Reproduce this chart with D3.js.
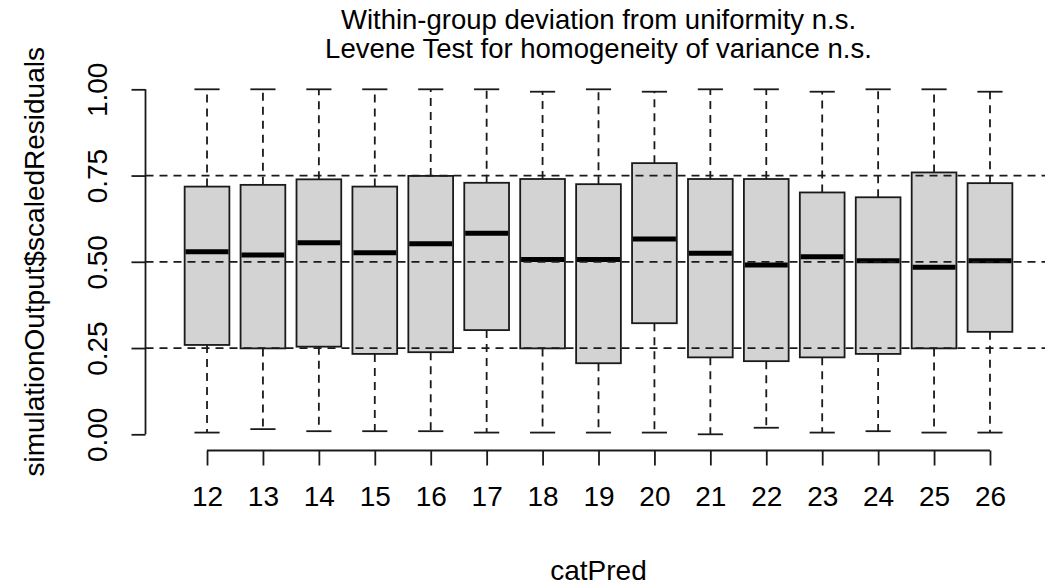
<!DOCTYPE html>
<html>
<head>
<meta charset="utf-8">
<script src="https://cdn.jsdelivr.net/npm/d3@7"></script>
<style>
  html, body { margin: 0; padding: 0; background: #fff; }
  svg { display: block; font-family: "Liberation Sans", Arial, sans-serif; }
</style>
</head>
<body>
<svg id="chart" width="1045" height="588"></svg>
<script>
// Groups of the categorical predictor
const categories = ["12","13","14","15","16","17","18","19","20","21","22","23","24","25","26"];

// Five-number summaries of the scaled residuals per group
const whiskerHigh = [1.000, 1.000, 1.000, 1.000, 1.000, 1.000, 0.993, 1.000, 0.993, 1.000, 1.000, 0.993, 1.000, 1.000, 0.993];
const upperQuartile = [0.718, 0.723, 0.739, 0.718, 0.749, 0.729, 0.740, 0.725, 0.786, 0.740, 0.740, 0.701, 0.687, 0.759, 0.728];
const medians = [0.529, 0.520, 0.555, 0.526, 0.552, 0.583, 0.507, 0.507, 0.566, 0.525, 0.491, 0.515, 0.503, 0.484, 0.503];
const lowerQuartile = [0.259, 0.249, 0.254, 0.233, 0.238, 0.302, 0.249, 0.206, 0.322, 0.223, 0.212, 0.223, 0.233, 0.249, 0.297];
const whiskerLow = [0.005, 0.015, 0.009, 0.009, 0.009, 0.005, 0.005, 0.005, 0.005, 0.000, 0.019, 0.005, 0.009, 0.005, 0.005];

// Reference levels for a uniform distribution
const referenceLevels = [0.25, 0.5, 0.75];
const yTicks = [0, 0.25, 0.5, 0.75, 1];

const titleLines = ["Within-group deviation from uniformity n.s.", "Levene Test for homogeneity of variance n.s."];
const xLabel = "catPred";
const yLabel = "simulationOutput$scaledResiduals";

(function () {
  const svg = d3.select("#chart");
  const ink = "#1a1a1a";
  const lw = 1.8;
  const dash = "8,6";

  // Plot region
  const plotLeft = 145.5, plotRight = 1051.5, plotTop = 75.5, plotBottom = 448.1;
  const n = categories.length;
  const x = d3.scaleLinear().domain([0.5 - 0.04 * n, n + 0.5 + 0.04 * n]).range([plotLeft, plotRight]);
  const y = d3.scaleLinear().domain([-0.04, 1.04]).range([plotBottom, plotTop]);
  const unit = x(2) - x(1);
  const boxW = 0.8 * unit;
  const capW = 0.45 * unit;

  const rows = categories.map((c, i) => ({
    cat: c, pos: i + 1,
    hi: whiskerHigh[i], q3: upperQuartile[i], med: medians[i], q1: lowerQuartile[i], lo: whiskerLow[i]
  }));

  const boxes = svg.append("g");

  // Whiskers (dashed) from box edges out to the extremes
  boxes.selectAll(".whisker-up").data(rows).join("line")
    .attr("x1", d => x(d.pos)).attr("x2", d => x(d.pos))
    .attr("y1", d => y(d.q3)).attr("y2", d => y(d.hi))
    .attr("stroke", ink).attr("stroke-width", lw).attr("stroke-dasharray", dash);
  boxes.selectAll(".whisker-down").data(rows).join("line")
    .attr("x1", d => x(d.pos)).attr("x2", d => x(d.pos))
    .attr("y1", d => y(d.q1)).attr("y2", d => y(d.lo))
    .attr("stroke", ink).attr("stroke-width", lw).attr("stroke-dasharray", dash);

  // Staples
  ["hi", "lo"].forEach(k => {
    boxes.selectAll(".staple-" + k).data(rows).join("line")
      .attr("x1", d => x(d.pos) - capW / 2).attr("x2", d => x(d.pos) + capW / 2)
      .attr("y1", d => y(d[k])).attr("y2", d => y(d[k]))
      .attr("stroke", ink).attr("stroke-width", lw);
  });

  // Boxes
  boxes.selectAll("rect").data(rows).join("rect")
    .attr("x", d => x(d.pos) - boxW / 2).attr("width", boxW)
    .attr("y", d => y(d.q3)).attr("height", d => y(d.q1) - y(d.q3))
    .attr("fill", "#d3d3d3").attr("stroke", ink).attr("stroke-width", lw);

  // Medians
  boxes.selectAll(".median").data(rows).join("line")
    .attr("x1", d => x(d.pos) - boxW / 2 + 0.9).attr("x2", d => x(d.pos) + boxW / 2 - 0.9)
    .attr("y1", d => y(d.med)).attr("y2", d => y(d.med))
    .attr("stroke", "#000").attr("stroke-width", 5);

  // Horizontal reference lines drawn over the boxes
  svg.append("g").selectAll("line").data(referenceLevels).join("line")
    .attr("x1", plotLeft).attr("x2", plotRight)
    .attr("y1", d => y(d)).attr("y2", d => y(d))
    .attr("stroke", ink).attr("stroke-width", lw).attr("stroke-dasharray", dash);

  // Y axis
  const yAxis = svg.append("g").attr("transform", `translate(${plotLeft},0)`)
    .call(d3.axisLeft(y).tickValues(yTicks).tickSize(14).tickSizeOuter(0).tickFormat(d3.format(".2f")));
  yAxis.attr("font-family", null).attr("font-size", null);
  yAxis.select(".domain").attr("d", `M0,${y(0)}V${y(1)}`).attr("stroke", ink).attr("stroke-width", lw);
  yAxis.selectAll(".tick line").attr("stroke", ink).attr("stroke-width", lw);
  yAxis.selectAll(".tick text")
    .attr("x", null).attr("dy", null)
    .attr("transform", "translate(-39,0) rotate(-90)")
    .attr("text-anchor", "middle")
    .attr("fill", "#000").style("font-size", "28px");

  // X axis
  const xAxisY = 450.5;
  const xAxis = svg.append("g").attr("transform", `translate(0,${xAxisY})`)
    .call(d3.axisBottom(x).tickValues(rows.map(d => d.pos)).tickSize(15).tickSizeOuter(0)
      .tickFormat((d, i) => categories[i]));
  xAxis.attr("font-family", null).attr("font-size", null);
  xAxis.select(".domain").attr("d", `M${x(1)},0H${x(n)}`).attr("stroke", ink).attr("stroke-width", lw);
  xAxis.selectAll(".tick line").attr("stroke", ink).attr("stroke-width", lw);
  xAxis.selectAll(".tick text").attr("y", 55).attr("dy", null)
    .attr("fill", "#000").style("font-size", "28px");

  // Titles and axis labels
  const cx = (plotLeft + plotRight) / 2;
  svg.append("g").selectAll("text").data(titleLines).join("text")
    .attr("x", cx).attr("y", (d, i) => 29 + i * 28.5)
    .attr("text-anchor", "middle").attr("fill", "#000")
    .style("font-size", "27.5px").text(d => d);

  svg.append("text").attr("x", cx).attr("y", 580)
    .attr("text-anchor", "middle").attr("fill", "#000")
    .style("font-size", "28px").text(xLabel);

  svg.append("text")
    .attr("transform", `translate(44,${(plotTop + plotBottom) / 2}) rotate(-90)`)
    .attr("text-anchor", "middle").attr("fill", "#000")
    .style("font-size", "28px").text(yLabel);
})();
</script>
</body>
</html>
